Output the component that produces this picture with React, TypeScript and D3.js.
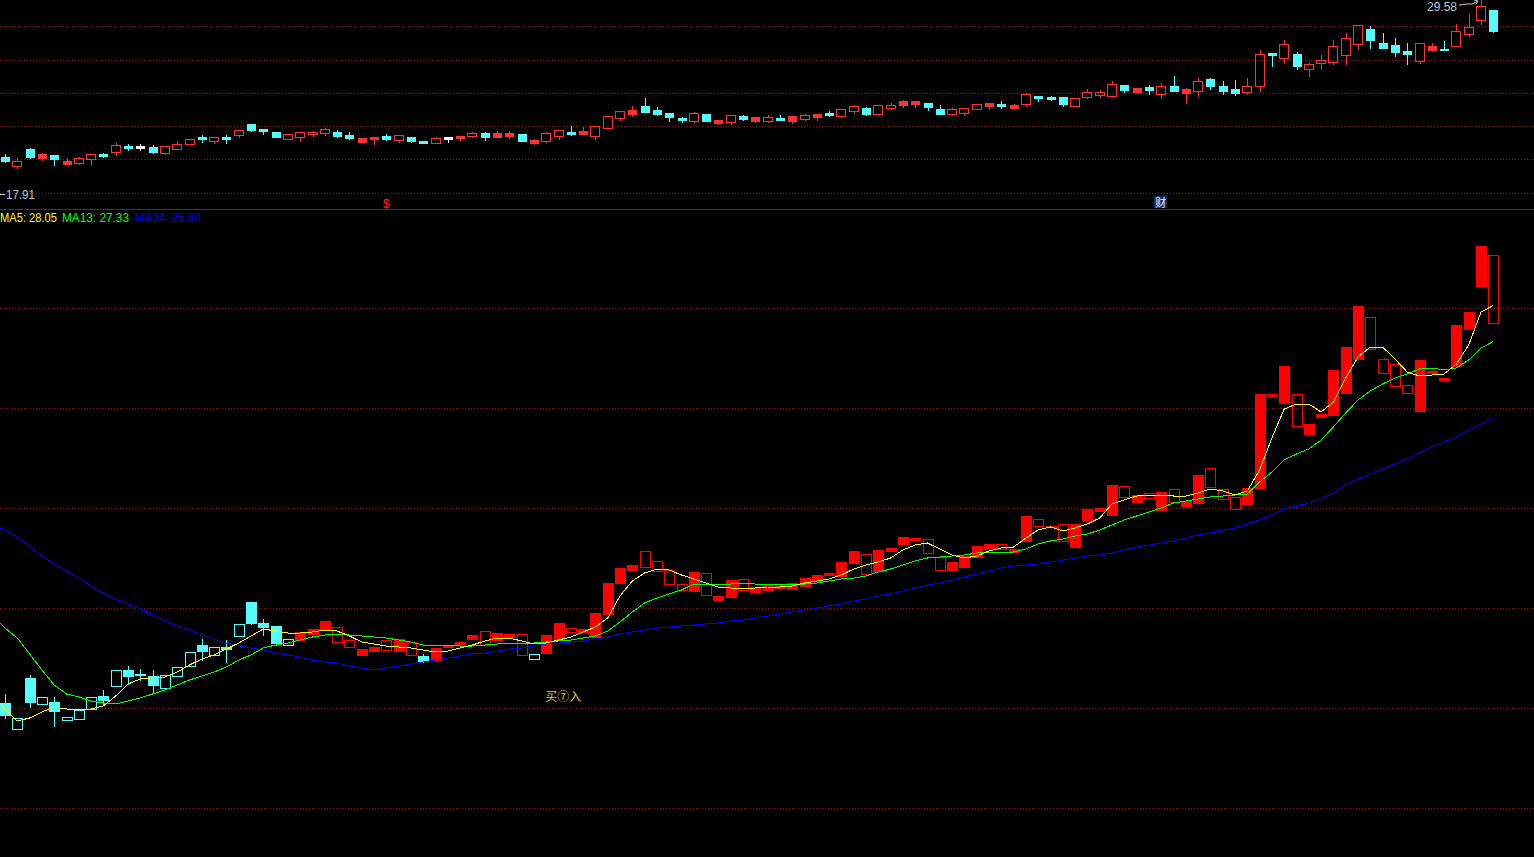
import { useEffect, useRef } from 'react';
import * as d3 from 'd3';

const width = 1534;
const height = 857;

// upper pane: daily candles [open, close, high, low]
const priceBars: number[][] = [
  [20.15, 19.89, 20.31, 19.83], [19.61, 19.89, 20.07, 19.49], [20.61, 20.11, 20.69, 20.07], [20.33, 20.07, 20.39, 19.95],
  [20.23, 19.99, 20.27, 19.67], [19.87, 19.71, 20.07, 19.71], [19.77, 20.07, 20.13, 19.74], [19.99, 20.31, 20.31, 19.71],
  [20.29, 20.21, 20.39, 20.15], [20.45, 20.87, 20.95, 20.25], [20.81, 20.67, 20.89, 20.57], [20.81, 20.67, 20.89, 20.57],
  [20.73, 20.45, 20.83, 20.39], [20.39, 20.79, 20.79, 20.31], [20.63, 20.93, 21.11, 20.63], [20.89, 21.21, 21.21, 20.89],
  [21.33, 21.19, 21.47, 21.05], [21.09, 21.33, 21.33, 20.99], [21.33, 21.23, 21.43, 20.99], [21.43, 21.75, 21.75, 21.33],
  [22.11, 21.77, 22.11, 21.71], [21.81, 21.73, 21.85, 21.53], [21.63, 21.35, 21.63, 21.35], [21.23, 21.51, 21.51, 21.23],
  [21.31, 21.63, 21.63, 21.11], [21.51, 21.63, 21.71, 21.41], [21.55, 21.83, 21.87, 21.47], [21.67, 21.39, 21.77, 21.33],
  [21.45, 21.29, 21.63, 21.23], [21.27, 21.05, 21.27, 21.05], [21.33, 21.19, 21.33, 20.91], [21.42, 21.24, 21.51, 21.13],
  [21.15, 21.45, 21.45, 21.03], [21.35, 21.11, 21.35, 21.03], [21.11, 20.99, 21.11, 20.99], [20.99, 21.27, 21.33, 20.99],
  [21.35, 21.23, 21.35, 21.03], [21.41, 21.29, 21.41, 21.15], [21.41, 21.55, 21.63, 21.33], [21.59, 21.33, 21.65, 21.13],
  [21.59, 21.35, 21.69, 21.35], [21.61, 21.41, 21.69, 21.29], [21.51, 21.09, 21.51, 21.09], [21.15, 20.95, 21.19, 20.89],
  [21.09, 21.59, 21.65, 21.03], [21.41, 21.75, 21.75, 21.21], [21.67, 21.51, 21.99, 21.45], [21.71, 21.51, 21.93, 21.51],
  [21.41, 22.01, 22.01, 21.21], [21.89, 22.59, 22.59, 21.89], [22.51, 22.89, 22.89, 22.35], [22.95, 22.71, 23.19, 22.59],
  [23.19, 22.83, 23.67, 22.83], [22.95, 22.75, 23.13, 22.65], [22.79, 22.55, 22.79, 22.31], [22.51, 22.35, 22.55, 22.25],
  [22.29, 22.77, 22.83, 22.23], [22.73, 22.29, 22.73, 22.29], [22.37, 22.19, 22.37, 22.11], [22.27, 22.65, 22.65, 22.13],
  [22.63, 22.43, 22.67, 22.37], [22.53, 22.29, 22.53, 22.23], [22.33, 22.53, 22.65, 22.23], [22.47, 22.39, 22.65, 22.39],
  [22.59, 22.33, 22.59, 22.19], [22.45, 22.65, 22.73, 22.39], [22.71, 22.55, 22.71, 22.35], [22.81, 22.67, 22.89, 22.59],
  [22.61, 23.01, 23.01, 22.53], [22.89, 23.19, 23.25, 22.79], [23.09, 22.71, 23.15, 22.65], [22.71, 23.25, 23.25, 22.65],
  [23.11, 23.29, 23.39, 23.01], [23.51, 23.25, 23.55, 23.13], [23.51, 23.31, 23.51, 23.13], [23.39, 23.13, 23.39, 22.95],
  [23.01, 22.75, 23.25, 22.75], [22.73, 23.01, 23.09, 22.65], [22.79, 23.11, 23.11, 22.65], [23.03, 23.31, 23.31, 23.03],
  [23.39, 23.19, 23.39, 23.01], [23.35, 23.21, 23.49, 23.11], [23.27, 23.09, 23.31, 23.01], [23.35, 23.93, 23.99, 23.21],
  [23.79, 23.69, 23.79, 23.49], [23.75, 23.61, 23.81, 23.55], [23.75, 23.35, 23.75, 23.19], [23.21, 23.71, 23.71, 23.21],
  [23.75, 24.03, 24.21, 23.69], [23.89, 24.07, 24.17, 23.75], [23.81, 24.51, 24.69, 23.73], [24.49, 24.19, 24.49, 24.03],
  [24.31, 24.07, 24.31, 23.97], [24.36, 24.19, 24.47, 23.91], [23.93, 24.39, 24.57, 23.69], [24.39, 24.13, 24.99, 24.13],
  [24.25, 23.97, 24.29, 23.39], [24.11, 24.69, 24.91, 23.81], [24.81, 24.43, 24.87, 24.21], [24.39, 24.13, 24.69, 23.91],
  [24.21, 23.99, 24.79, 23.85], [24.03, 24.43, 24.91, 23.91], [24.39, 26.33, 26.55, 24.11], [26.37, 26.29, 26.37, 25.61],
  [26.11, 26.93, 27.15, 25.79], [26.33, 25.63, 26.43, 25.43], [25.45, 25.71, 25.81, 24.99], [25.81, 25.95, 26.25, 25.43],
  [25.83, 26.79, 27.15, 25.71], [26.29, 27.27, 27.57, 25.71], [26.93, 28.05, 28.05, 26.63], [27.81, 27.17, 27.99, 26.69],
  [26.97, 26.69, 27.57, 26.69], [26.87, 26.45, 27.27, 26.21], [26.51, 26.33, 26.99, 25.73], [25.89, 26.97, 26.97, 25.77],
  [26.81, 26.59, 26.99, 26.51], [26.63, 26.55, 27.11, 26.55], [26.83, 27.69, 28.11, 26.83], [27.51, 27.95, 28.71, 27.41],
  [28.35, 29.25, 29.58, 28.15], [29.01, 27.69, 29.01, 27.63],
];
// u = up (red), d = down (cyan), f = unchanged (white)
const priceDir =
  'dududuuudu' + 'dfduuududu' + 'ddduuuuddu' + 'ududdufuud' + 'uuduuuduuu' + 'uudddduduu' +
  'duuduuuduu' + 'duuuudduuu' + 'uduuddduuu' + 'udududuudd' + 'duududuuuu' + 'udddduuduu' + 'ud';

// lower pane: candles [open, close, high, low]
const mainBars: number[][] = [
  [20.10, 19.85, 20.28, 19.81], [19.59, 19.80, 19.80, 19.59], [20.60, 20.13, 20.66, 20.03], [20.07, 20.21, 20.21, 20.07],
  [20.13, 19.95, 20.22, 19.65], [19.77, 19.82, 19.82, 19.77], [19.79, 19.97, 19.97, 19.79], [19.99, 20.21, 20.21, 19.99],
  [20.24, 20.16, 20.36, 20.08], [20.45, 20.76, 20.76, 20.45], [20.76, 20.65, 20.84, 20.48], [20.68, 20.66, 20.79, 20.56],
  [20.64, 20.47, 20.76, 20.33], [20.39, 20.67, 20.67, 20.39], [20.65, 20.83, 20.83, 20.65], [20.84, 21.12, 21.12, 20.84],
  [21.26, 21.15, 21.39, 20.96], [21.07, 21.23, 21.23, 21.07], [21.23, 21.18, 21.35, 20.93], [21.45, 21.68, 21.68, 21.45],
  [22.12, 21.71, 22.12, 21.67], [21.70, 21.63, 21.78, 21.46], [21.64, 21.31, 21.64, 21.27], [21.27, 21.39, 21.39, 21.27],
  [21.52, 21.36, 21.52, 21.36], [21.58, 21.49, 21.58, 21.49], [21.74, 21.56, 21.74, 21.56], [21.33, 21.62, 21.62, 21.33],
  [21.23, 21.36, 21.36, 21.23], [21.18, 21.06, 21.18, 21.06], [21.22, 21.14, 21.22, 21.14], [21.16, 21.36, 21.36, 21.16],
  [21.38, 21.14, 21.38, 21.14], [21.07, 21.32, 21.32, 21.07], [21.04, 20.94, 21.08, 20.92], [21.21, 20.97, 21.21, 20.97],
  [21.27, 21.23, 21.27, 21.23], [21.33, 21.28, 21.33, 21.28], [21.46, 21.38, 21.46, 21.38], [21.27, 21.54, 21.54, 21.27],
  [21.50, 21.36, 21.50, 21.36], [21.49, 21.42, 21.49, 21.42], [21.07, 21.48, 21.48, 21.07], [20.99, 21.08, 21.08, 20.99],
  [21.46, 21.10, 21.46, 21.10], [21.69, 21.37, 21.69, 21.37], [21.51, 21.60, 21.60, 21.51], [21.58, 21.53, 21.58, 21.53],
  [21.90, 21.42, 21.90, 21.42], [22.50, 21.89, 22.50, 21.89], [22.80, 22.50, 22.80, 22.50], [22.86, 22.77, 22.86, 22.77],
  [22.83, 23.15, 23.15, 22.83], [22.75, 22.95, 22.95, 22.75], [22.49, 22.77, 22.77, 22.49], [22.35, 22.48, 22.48, 22.35],
  [22.72, 22.34, 22.72, 22.34], [22.27, 22.71, 22.71, 22.27], [22.24, 22.16, 22.24, 22.16], [22.56, 22.22, 22.56, 22.22],
  [22.37, 22.59, 22.59, 22.37], [22.43, 22.32, 22.43, 22.32], [22.46, 22.37, 22.46, 22.37], [22.46, 22.41, 22.46, 22.41],
  [22.50, 22.38, 22.50, 22.38], [22.61, 22.45, 22.61, 22.45], [22.66, 22.55, 22.66, 22.55], [22.71, 22.66, 22.71, 22.66],
  [22.92, 22.64, 22.92, 22.64], [23.14, 22.90, 23.14, 22.90], [22.69, 23.08, 23.08, 22.69], [23.16, 22.73, 23.16, 22.73],
  [23.20, 23.14, 23.20, 23.14], [23.42, 23.28, 23.42, 23.28], [23.40, 23.36, 23.40, 23.36], [23.11, 23.37, 23.37, 23.11],
  [22.77, 23.01, 23.01, 22.77], [22.92, 22.77, 22.92, 22.77], [23.04, 22.82, 23.04, 22.82], [23.24, 23.02, 23.24, 23.02],
  [23.29, 23.20, 23.29, 23.20], [23.18, 23.29, 23.29, 23.18], [23.18, 23.13, 23.18, 23.13], [23.84, 23.35, 23.84, 23.35],
  [23.65, 23.79, 23.79, 23.65], [23.65, 23.62, 23.65, 23.62], [23.35, 23.69, 23.69, 23.35], [23.68, 23.21, 23.68, 23.21],
  [23.98, 23.77, 23.98, 23.77], [24.00, 23.94, 24.00, 23.94], [24.46, 23.86, 24.46, 23.86], [24.21, 24.45, 24.45, 24.21],
  [24.26, 24.12, 24.26, 24.12], [24.19, 24.31, 24.31, 24.19], [24.33, 23.97, 24.33, 23.97], [24.13, 24.37, 24.37, 24.13],
  [24.14, 24.04, 24.14, 24.04], [24.66, 24.10, 24.66, 24.10], [24.43, 24.81, 24.81, 24.43], [24.17, 24.37, 24.37, 24.17],
  [23.99, 24.21, 24.21, 23.99], [24.40, 24.08, 24.40, 24.08], [26.28, 24.40, 26.28, 24.40], [26.25, 26.29, 26.29, 26.25],
  [26.84, 26.10, 26.84, 26.10], [25.65, 26.29, 26.29, 25.65], [25.68, 25.49, 25.68, 25.49], [25.89, 25.83, 25.89, 25.83],
  [26.76, 25.86, 26.76, 25.86], [27.22, 26.30, 27.22, 26.30], [28.04, 26.98, 28.04, 26.98], [27.18, 27.83, 27.83, 27.18],
  [26.69, 26.99, 26.99, 26.69], [26.45, 26.89, 26.89, 26.45], [26.31, 26.47, 26.47, 26.31], [26.96, 25.94, 26.96, 25.94],
  [26.74, 26.69, 26.74, 26.69], [26.61, 26.57, 26.61, 26.57], [27.66, 26.84, 27.66, 26.84], [27.92, 27.58, 27.92, 27.58],
  [29.24, 28.45, 29.24, 28.45], [27.69, 29.06, 29.06, 27.69],
];
const mainDir =
  'dddddddddd' + 'dddddddddd' + 'dddduuuuuu' + 'uuuuduuuuu' + 'uuuduuuuuu' + 'uuuuuuuuuu' +
  'uuuuuuuuuu' + 'uuuuuuuuuu' + 'uuuuuuuuuu' + 'uuuuuuuuuu' + 'uuuuuuuuuu' + 'uuuuuuuuuu' + 'uu';

// moving averages; the first value belongs to the bar just left of the screen
const ma5 = [
  20.28,
  19.98, 19.74, 19.80, 19.92, 20.02, 19.98, 19.96, 19.98, 20.04, 20.24,
  20.48, 20.58, 20.60, 20.62, 20.72, 20.86, 20.98, 21.06, 21.18, 21.30,
  21.44, 21.58, 21.54, 21.50, 21.50, 21.52, 21.56, 21.54, 21.44, 21.32,
  21.28, 21.24, 21.22, 21.20, 21.16, 21.12, 21.14, 21.20, 21.26, 21.34,
  21.40, 21.40, 21.34, 21.28, 21.30, 21.36, 21.42, 21.52, 21.62, 21.80,
  22.24, 22.54, 22.70, 22.78, 22.76, 22.66, 22.58, 22.50, 22.42, 22.40,
  22.40, 22.40, 22.42, 22.42, 22.44, 22.50, 22.54, 22.58, 22.66, 22.78,
  22.86, 22.92, 23.00, 23.16, 23.26, 23.30, 23.18, 23.06, 23.00, 23.04,
  23.14, 23.20, 23.22, 23.40, 23.56, 23.62, 23.54, 23.60, 23.68, 23.80,
  24.08, 24.16, 24.24, 24.26, 24.26, 24.24, 24.24, 24.30, 24.38, 24.34,
  24.26, 24.34, 24.76, 25.40, 25.98, 26.08, 26.08, 25.92, 26.12, 26.60,
  27.02, 27.22, 27.22, 26.98, 26.72, 26.64, 26.66, 26.68, 26.88, 27.26,
  27.92, 28.05,
];
const ma13 = [
  21.83,
  21.60, 21.40, 21.08, 20.76, 20.46, 20.28, 20.22, 20.14, 20.10, 20.08,
  20.14, 20.20, 20.28, 20.36, 20.46, 20.56, 20.64, 20.72, 20.82, 20.96,
  21.06, 21.20, 21.26, 21.30, 21.36, 21.42, 21.46, 21.48, 21.46, 21.44,
  21.42, 21.40, 21.36, 21.32, 21.26, 21.26, 21.26, 21.24, 21.24, 21.26,
  21.28, 21.30, 21.30, 21.30, 21.32, 21.34, 21.36, 21.40, 21.44, 21.54,
  21.72, 21.92, 22.10, 22.20, 22.28, 22.36, 22.48, 22.48, 22.48, 22.48,
  22.50, 22.48, 22.48, 22.48, 22.48, 22.48, 22.50, 22.54, 22.58, 22.60,
  22.64, 22.72, 22.78, 22.86, 22.94, 23.00, 23.02, 23.04, 23.06, 23.10,
  23.12, 23.12, 23.12, 23.18, 23.28, 23.34, 23.38, 23.44, 23.48, 23.56,
  23.66, 23.76, 23.84, 23.92, 24.00, 24.10, 24.14, 24.18, 24.22, 24.24,
  24.26, 24.28, 24.52, 24.72, 24.96, 25.08, 25.18, 25.36, 25.62, 25.90,
  26.16, 26.34, 26.48, 26.60, 26.68, 26.78, 26.80, 26.76, 26.80, 26.96,
  27.20, 27.33,
];
const ma34 = [
  23.67,
  23.56, 23.42, 23.24, 23.04, 22.88, 22.74, 22.60, 22.44, 22.30, 22.18,
  22.08, 21.98, 21.86, 21.74, 21.64, 21.56, 21.46, 21.38, 21.30, 21.24,
  21.20, 21.16, 21.10, 21.06, 21.02, 20.96, 20.92, 20.90, 20.84, 20.80,
  20.76, 20.80, 20.84, 20.88, 20.92, 20.96, 21.00, 21.04, 21.08, 21.10,
  21.14, 21.18, 21.20, 21.24, 21.28, 21.30, 21.32, 21.34, 21.38, 21.42,
  21.48, 21.52, 21.56, 21.60, 21.62, 21.64, 21.66, 21.68, 21.70, 21.74,
  21.76, 21.80, 21.84, 21.88, 21.92, 21.96, 22.00, 22.04, 22.08, 22.14,
  22.18, 22.24, 22.28, 22.34, 22.40, 22.46, 22.50, 22.56, 22.62, 22.68,
  22.74, 22.80, 22.84, 22.86, 22.88, 22.92, 22.96, 23.00, 23.04, 23.06,
  23.10, 23.16, 23.22, 23.26, 23.30, 23.34, 23.40, 23.46, 23.50, 23.56,
  23.60, 23.68, 23.76, 23.86, 23.98, 24.04, 24.10, 24.18, 24.30, 24.46,
  24.58, 24.68, 24.78, 24.88, 24.98, 25.10, 25.22, 25.32, 25.42, 25.56,
  25.68, 25.80,
];

const maNames = ['MA5', 'MA13', 'MA34'];
const maLast = [28.05, 27.33, 25.8];
const gridLevels = [18, 20, 22, 24, 26, 28];
const priceHigh = 29.58;
const priceLow = 17.91;
// text marks: [bar index, text]
const topMarks: [number, string][] = [[31, '$'], [94, '财']];
const buySignal: [number, number, string] = [44, 20.36, '买⑦入'];

export default function App() {
  const ref = useRef<SVGSVGElement>(null);

  useEffect(() => {
    document.body.style.margin = '0';
    document.body.style.background = '#000';
    if (!ref.current) return;
    const svg = d3.select(ref.current);
    svg.selectAll('*').remove();

    const x = d3
      .scaleBand<number>()
      .domain(d3.range(priceBars.length))
      .range([-1.15, 1499.45]);
    // centre of bar i (also works for the off-screen bar at -1)
    const cx = (i: number) => x.range()[0] + x.step() * (i + 0.5);

    const yTop = d3.scaleLinear().domain([18, 28]).range([192.5, 26.3]);
    const yMain = d3.scaleLinear().domain([18, 28]).range([808, 308]);

    const font = '"Liberation Sans", Arial, sans-serif';
    const gridColor = '#9a1010';

    // grid lines
    const grid = svg.append('g').attr('shape-rendering', 'crispEdges');
    [yTop, yMain].forEach((y) => {
      grid
        .selectAll(null)
        .data(gridLevels)
        .enter()
        .append('line')
        .attr('x1', 0)
        .attr('x2', width)
        .attr('y1', (d) => Math.round(y(d)) + 0.5)
        .attr('y2', (d) => Math.round(y(d)) + 0.5)
        .attr('stroke', gridColor)
        .attr('stroke-dasharray', '1,2');
    });

    // pane separator
    svg
      .append('line')
      .attr('x1', 0)
      .attr('x2', width)
      .attr('y1', 209.5)
      .attr('y2', 209.5)
      .attr('stroke', '#c00000');

    const drawBars = (
      bars: number[][],
      dir: string,
      y: d3.ScaleLinear<number, number>,
      filledW: number,
      hollowW: number,
      palette: Record<string, string>
    ) => {
      const g = svg.append('g').attr('shape-rendering', 'crispEdges');
      bars.forEach(([o, c, h, l], i) => {
        const col = palette[dir[i]];
        const xc = Math.round(cx(i));
        const top = Math.round(y(Math.max(o, c)));
        const bot = Math.round(y(Math.min(o, c)));
        const hi = Math.round(y(h));
        const lo = Math.round(y(l));
        if (hi < top) {
          g.append('line')
            .attr('x1', xc + 0.5).attr('x2', xc + 0.5)
            .attr('y1', hi).attr('y2', top)
            .attr('stroke', col);
        }
        if (lo > bot) {
          g.append('line')
            .attr('x1', xc + 0.5).attr('x2', xc + 0.5)
            .attr('y1', bot + 1).attr('y2', lo + 1)
            .attr('stroke', col);
        }
        if (c < o) {
          g.append('rect')
            .attr('x', xc - Math.floor(filledW / 2))
            .attr('y', top)
            .attr('width', filledW)
            .attr('height', bot - top + 1)
            .attr('fill', col);
        } else {
          g.append('rect')
            .attr('x', xc - Math.floor(hollowW / 2) + 0.5)
            .attr('y', top + 0.5)
            .attr('width', hollowW - 1)
            .attr('height', Math.max(bot - top, 1))
            .attr('fill', 'none')
            .attr('stroke', col);
        }
      });
    };

    drawBars(priceBars, priceDir, yTop, 9, 10, { u: '#ff3232', d: '#54fcfc', f: '#ffffff' });
    drawBars(mainBars, mainDir, yMain, 11, 11, { u: '#ff0000', d: '#54fcfc' });

    // moving averages (index 0 is the bar before the first visible one)
    const line = d3
      .line<number>()
      .x((_, i) => cx(i - 1))
      .y((v) => yMain(v));
    const maColors = ['#ffff00', '#00ff00', '#0000ff'];
    [ma34, ma13, ma5].forEach((series, k) => {
      svg
        .append('path')
        .datum(series)
        .attr('fill', 'none')
        .attr('stroke', maColors[2 - k])
        .attr('stroke-width', 1)
        .attr('shape-rendering', 'crispEdges')
        .attr('d', line);
    });

    // legend
    const legendX = [0, 62, 135];
    const legendW = [57, 67, 66];
    maNames.forEach((name, k) => {
      svg
        .append('text')
        .attr('x', legendX[k])
        .attr('y', 222)
        .attr('fill', maColors[k])
        .attr('font-family', font)
        .attr('font-size', 13)
        .attr('textLength', legendW[k])
        .attr('lengthAdjust', 'spacingAndGlyphs')
        .text(`${name}: ${maLast[k].toFixed(2)}`);
    });

    // high / low labels of the upper pane
    const hiX = cx(120);
    const hiY = yTop(priceHigh);
    svg
      .append('text')
      .attr('x', hiX - 24)
      .attr('y', hiY + 11)
      .attr('text-anchor', 'end')
      .attr('fill', '#c8c8c8')
      .attr('font-family', font)
      .attr('font-size', 12)
      .attr('textLength', 30)
      .attr('lengthAdjust', 'spacingAndGlyphs')
      .text(priceHigh.toFixed(2));
    svg
      .append('polyline')
      .attr('points', `${hiX - 22},${hiY + 5} ${hiX - 15},${hiY + 4} ${hiX - 9},${hiY + 4} ${hiX - 3},${hiY + 1}`)
      .attr('fill', 'none')
      .attr('stroke', '#c8c8c8');
    svg
      .append('polyline')
      .attr('points', `${hiX - 7},${hiY} ${hiX - 3},${hiY + 1} ${hiX - 5},${hiY + 4}`)
      .attr('fill', 'none')
      .attr('stroke', '#c8c8c8');

    const loY = yTop(priceLow);
    svg
      .append('line')
      .attr('x1', 0).attr('x2', 5)
      .attr('y1', Math.round(loY) + 0.5).attr('y2', Math.round(loY) + 0.5)
      .attr('stroke', '#c8c8c8');
    svg
      .append('text')
      .attr('x', 6)
      .attr('y', loY + 5)
      .attr('fill', '#c8c8c8')
      .attr('font-family', font)
      .attr('font-size', 13)
      .attr('textLength', 29)
      .attr('lengthAdjust', 'spacingAndGlyphs')
      .text(priceLow.toFixed(2));

    // event marks on the separator
    topMarks.forEach(([i, t]) => {
      const mx = cx(i);
      if (t === '财') {
        svg.append('rect')
          .attr('x', Math.round(mx) - 7).attr('y', 196)
          .attr('width', 13).attr('height', 12)
          .attr('fill', '#0a2f6a');
        svg.append('text')
          .attr('x', mx - 0.5).attr('y', 206.5)
          .attr('text-anchor', 'middle')
          .attr('fill', '#e8f0ff')
          .attr('font-family', '"Noto Sans CJK SC", sans-serif')
          .attr('font-size', 11)
          .text(t);
      } else {
        svg.append('text')
          .attr('x', mx).attr('y', 208)
          .attr('text-anchor', 'middle')
          .attr('fill', '#ff2020')
          .attr('font-family', font)
          .attr('font-size', 12)
          .text(t);
      }
    });

    // buy signal text
    svg
      .append('text')
      .attr('x', cx(buySignal[0]) - 1)
      .attr('y', yMain(buySignal[1]))
      .attr('dominant-baseline', 'hanging')
      .attr('fill', '#e6c832')
      .attr('font-family', '"Noto Sans CJK SC", sans-serif')
      .attr('font-size', 12)
      .text(buySignal[2]);
  }, []);

  return (
    <svg
      ref={ref}
      width={width}
      height={height}
      style={{ display: 'block', background: '#000' }}
    />
  );
}
